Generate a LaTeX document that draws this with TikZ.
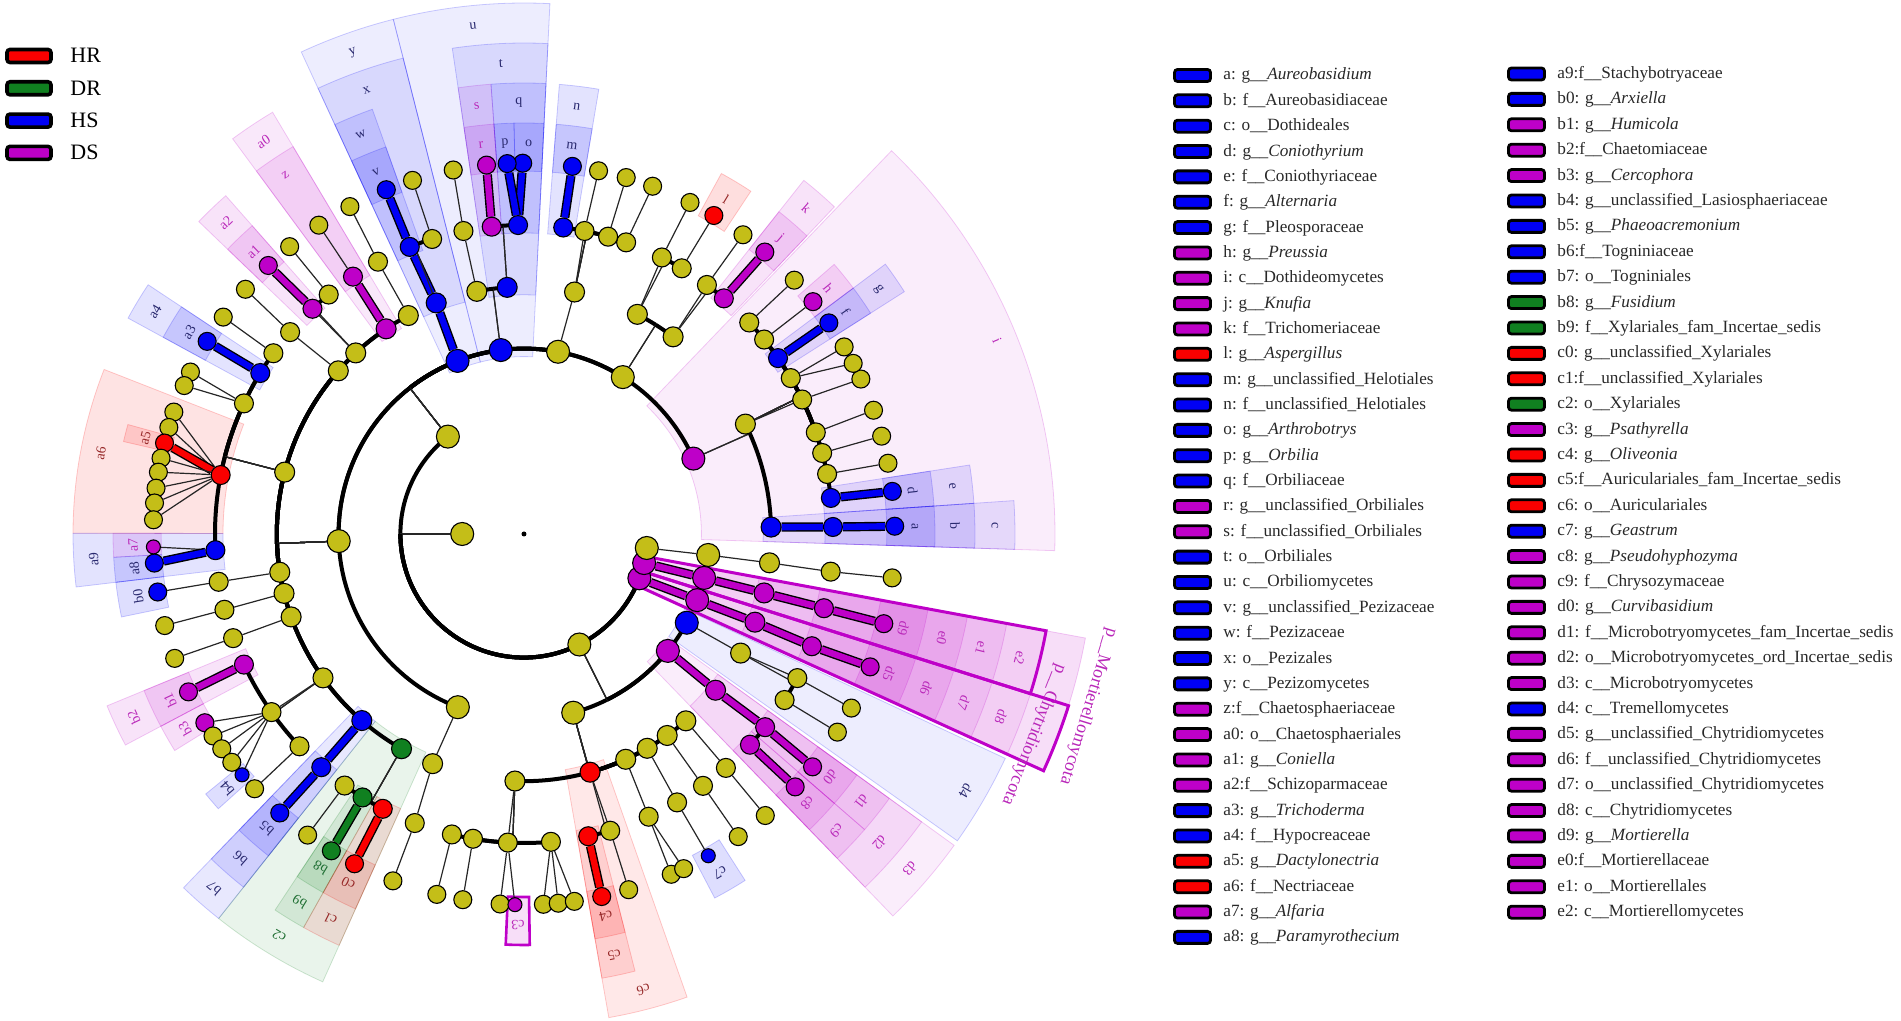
\documentclass[tikz,border=0pt]{standalone}
\usepackage{fontspec}
\setmainfont{Liberation Serif}
\usepackage{tikz}
\definecolor{hr}{RGB}{250,0,0}
\definecolor{dr}{RGB}{16,128,32}
\definecolor{hs}{RGB}{0,0,245}
\definecolor{ds}{RGB}{190,0,200}
\definecolor{yel}{RGB}{196,190,24}
\definecolor{hrlab}{RGB}{150,40,40}
\definecolor{drlab}{RGB}{30,110,50}
\definecolor{hslab}{RGB}{40,40,110}
\definecolor{dslab}{RGB}{185,40,185}
\definecolor{keyink}{RGB}{40,40,40}

\pgfdeclarelayer{back}
\pgfdeclarelayer{edges}
\pgfsetlayers{back,edges,main}

\tikzset{
  clnode/.style={circle, draw=black, line width=0.55pt, inner sep=0pt, fill=#1},
  lev1/.style={minimum size=11.5pt},
  lev2/.style={minimum size=11.5pt},
  lev3/.style={minimum size=11.5pt},
  lev4/.style={minimum size=10pt},
  lev5/.style={minimum size=9.5pt},
  lev6/.style={minimum size=9pt},
  smalldot/.style={minimum size=7pt},
  twig/.style={line width=0.6pt, black!85},
  branch/.style={line width=2pt, black},
  hibar/.style={draw=black, line width=0.7pt, double=#1, double distance=3.2pt},
  hlzone/.style={fill=#1, fill opacity=0.13, draw=#1, draw opacity=0.2, line width=0.4pt},
  hltag/.style={text=#1lab, font=\fontsize{7}{8}\selectfont, inner sep=0pt},
  keybox/.style={rectangle, rounded corners=1.5pt, draw=black, line width=1.4pt,
    minimum width=18pt, minimum height=6pt, inner sep=0pt, fill=#1},
  keytext/.style={anchor=base west, inner sep=0pt, text=keyink, font=\fontsize{8.6}{10}\selectfont},
}

\makeatletter
% tree node: [extra]{name}{angle}{level}{colour}
\newcommand\tn[5][]{%
  \expandafter\xdef\csname cl@a@#2\endcsname{#3}%
  \expandafter\xdef\csname cl@l@#2\endcsname{#4}%
  \expandafter\xdef\csname cl@c@#2\endcsname{#5}%
  \pgfmathsetmacro\cl@r{61.8*#4}%
  \node[clnode=#5, lev#4, #1] (#2) at (#3:\cl@r) {};}
\def\cl@yel{yel}
% tree edge: {parent}{child}
\newcommand\te[2]{%
  \edef\cl@pa{\csname cl@a@#1\endcsname}%
  \edef\cl@ca{\csname cl@a@#2\endcsname}%
  \edef\cl@lv{\csname cl@l@#2\endcsname}%
  \edef\cl@pc{\csname cl@c@#1\endcsname}%
  \edef\cl@cc{\csname cl@c@#2\endcsname}%
  \pgfmathsetmacro\cl@rr{61.8*\cl@lv}%
  \pgfmathtruncatemacro\cl@st{or(abs(\cl@ca-\cl@pa)<1.5, \cl@lv==6)}%
  \begin{pgfonlayer}{edges}
  \ifnum\cl@st=1
    \ifx\cl@pc\cl@cc
      \ifx\cl@cc\cl@yel \draw[twig] (#1) -- (#2);
      \else \draw[hibar=\cl@cc] (#1) -- (#2); \fi
    \else \draw[twig] (#1) -- (#2); \fi
  \else
    \draw[twig] (#1) -- (\cl@pa:\cl@rr);
    \draw[branch] (\cl@pa:\cl@rr) arc[start angle=\cl@pa, end angle=\cl@ca, radius=\cl@rr];
  \fi
  \end{pgfonlayer}}
% shaded clade: {name}{text}{colour}{from}{to}{level}
\newcommand\biomark[6]{%
  \pgfmathsetmacro\bm@rin{61.8*#6-8}%
  \pgfmathsetmacro\bm@rout{411+40*(6-#6)}%
  \pgfmathsetmacro\bm@rlab{\bm@rout-20}%
  \pgfmathsetmacro\bm@mid{(#4+#5)/2}%
  \pgfmathsetmacro\bm@op{0.02*#6+0.01}%
  \begin{pgfonlayer}{back}
    \path[hlzone=#3, fill opacity=\bm@op] (#4:\bm@rin) arc[start angle=#4, end angle=#5, radius=\bm@rin]
      -- (#5:\bm@rout) arc[start angle=#5, end angle=#4, radius=\bm@rout] -- cycle;
  \end{pgfonlayer}
  \node[hltag=#3, rotate=\bm@mid-90] (lab-#1) at (\bm@mid:\bm@rlab) {#2};}
\makeatother

\begin{document}
\begin{tikzpicture}[x=0.5pt, y=0.5pt]
\useasboundingbox (-524,-487) rectangle (1377,534);

% root, kingdom, phyla
\node[circle, fill=black, inner sep=0pt, minimum size=2.5pt] (root) at (0,0) {};
\tn{fungi}{180}{1}{yel}
\tn{asco}{128}{2}{yel}
\tn{basid}{296.6}{2}{yel}
\tn{chyt}{339}{2}{ds}
\tn{mort}{346.4}{2}{ds}
\tn{phx}{353.5}{2}{yel}
% classes
\tn{i}{24}{3}{ds}
\tn{eurot}{57.8}{3}{yel}
\tn{leot}{79.4}{3}{yel}
\tn{u}{97.2}{3}{hs}
\tn{y}{111}{3}{hs}
\tn{sord}{182.2}{3}{yel}
\tn{cls249}{249.1}{3}{yel}
\tn{agar}{285.4}{3}{yel}
\tn{d3}{320.9}{3}{ds}
\tn{d4}{331.4}{3}{hs}
\tn{d8}{339.1}{3}{ds}
\tn{e2}{346.3}{3}{ds}
\tn{clsx}{353.5}{3}{yel}
% orders
\tn{c}{1.6}{4}{hs}
\tn{pleo}{26.4}{4}{yel}
\tn{chaet}{52.9}{4}{yel}
\tn{eurotl}{62.7}{4}{yel}
\tn{helo}{78.2}{4}{yel}
\tn{t}{93.9}{4}{hs}
\tn{ord101}{101}{4}{yel}
\tn{x}{110.8}{4}{hs}
\tn{ord118}{117.9}{4}{yel}
\tn{a0}{123.9}{4}{ds}
\tn{ord133}{132.9}{4}{yel}
\tn{ord139}{138.7}{4}{yel}
\tn{hypo}{165.5}{4}{yel}
\tn{ord189}{188.9}{4}{yel}
\tn{ord194}{193.9}{4}{yel}
\tn{ord200}{199.6}{4}{yel}
\tn{sordl}{215.6}{4}{yel}
\tn{b7}{229}{4}{hs}
\tn{c2}{240.3}{4}{dr}
\tn{ord248}{248.3}{4}{yel}
\tn{ord268}{267.9}{4}{yel}
\tn{c6}{285.5}{4}{hr}
\tn{ord294}{294.3}{4}{yel}
\tn{ord300}{299.9}{4}{yel}
\tn{ord305}{305.4}{4}{yel}
\tn{ord311}{310.9}{4}{yel}
\tn{d2}{320.8}{4}{ds}
\tn{ord331}{331.2}{4}{yel}
\tn{d7}{339.1}{4}{ds}
\tn{e1}{346.2}{4}{ds}
\tn{ordx}{353.3}{4}{yel}
% families
\tn{b}{1.3}{5}{hs}
\tn{e}{6.7}{5}{hs}
\tn{fam11}{11.2}{5}{yel}
\tn{fam15}{15.2}{5}{yel}
\tn{fam19}{19.2}{5}{yel}
\tn{fam26}{25.8}{5}{yel}
\tn{fam30}{30.3}{5}{yel}
\tn{g}{34.7}{5}{hs}
\tn{fam39}{39}{5}{yel}
\tn{fam43}{43.2}{5}{yel}
\tn{k}{49.7}{5}{ds}
\tn{fam54}{53.7}{5}{yel}
\tn{fam59}{59.3}{5}{yel}
\tn{fam64}{63.5}{5}{yel}
\tn{fam71}{70.7}{5}{yel}
\tn{fam74}{74.2}{5}{yel}
\tn{fam79}{78.7}{5}{yel}
\tn{n}{82.7}{5}{hs}
\tn{q}{91.1}{5}{hs}
\tn{s}{96}{5}{ds}
\tn{fam101}{101.3}{5}{yel}
\tn{fam107}{107.3}{5}{yel}
\tn{w}{111.7}{5}{hs}
\tn{fam118}{118.2}{5}{yel}
\tn{z}{123.6}{5}{ds}
\tn{fam129}{129.2}{5}{yel}
\tn{a2}{133.2}{5}{ds}
\tn{fam139}{139.2}{5}{yel}
\tn{fam144}{144.2}{5}{yel}
\tn{a4}{148.6}{5}{hs}
\tn{fam155}{155}{5}{yel}
\tn{a6}{169}{5}{hr}
\tn{a9}{183}{5}{hs}
\tn{fam189}{188.9}{5}{yel}
\tn{fam194}{194.2}{5}{yel}
\tn{fam200}{199.7}{5}{yel}
\tn{b2}{205}{5}{ds}
\tn{fam215}{215.2}{5}{yel}
\tn{fam223}{223.4}{5}{yel}
\tn{b6}{229}{5}{hs}
\tn{fam235}{234.5}{5}{yel}
\tn{b9}{238.5}{5}{dr}
\tn{c1}{242.8}{5}{hr}
\tn{fam249}{249.3}{5}{yel}
\tn{fam257}{256.5}{5}{yel}
\tn{fam261}{260.5}{5}{yel}
\tn{fam267}{267}{5}{yel}
\tn{fam275}{275}{5}{yel}
\tn{c5}{282}{5}{hr}
\tn{fam286}{286.2}{5}{yel}
\tn{fam294}{293.8}{5}{yel}
\tn{fam300}{299.7}{5}{yel}
\tn{fam305}{305.4}{5}{yel}
\tn{fam311}{310.8}{5}{yel}
\tn{c9}{317}{5}{ds}
\tn{d1}{321.3}{5}{ds}
\tn{fam328}{327.5}{5}{yel}
\tn{fam332}{332.2}{5}{yel}
\tn{d6}{338.7}{5}{ds}
\tn{e0}{346.1}{5}{ds}
\tn{famx}{353}{5}{yel}
% genera
\tn{a}{1.2}{6}{hs}
\tn{d}{6.6}{6}{hs}
\tn{gen11}{11}{6}{yel}
\tn{gen15}{15.3}{6}{yel}
\tn{gen20}{19.5}{6}{yel}
\tn{gen25}{24.7}{6}{yel}
\tn{gen27}{27.4}{6}{yel}
\tn{gen30}{30.3}{6}{yel}
\tn{f}{34.7}{6}{hs}
\tn{h}{38.8}{6}{ds}
\tn{gen43}{43.2}{6}{yel}
\tn{j}{49.5}{6}{ds}
\tn{gen54}{53.8}{6}{yel}
\tn{l}{59.2}{6}{hr}
\tn{gen63}{63.4}{6}{yel}
\tn{gen70}{69.7}{6}{yel}
\tn{gen74}{74}{6}{yel}
\tn{gen78}{78.4}{6}{yel}
\tn{m}{82.5}{6}{hs}
\tn{o}{90.2}{6}{hs}
\tn{p}{92.6}{6}{hs}
\tn{r}{95.8}{6}{ds}
\tn{gen101}{101}{6}{yel}
\tn{gen108}{107.5}{6}{yel}
\tn{v}{111.8}{6}{hs}
\tn{gen118}{118}{6}{yel}
\tn{gen124}{123.6}{6}{yel}
\tn{gen129}{129.2}{6}{yel}
\tn{a1}{133.6}{6}{ds}
\tn{gen139}{138.7}{6}{yel}
\tn{gen144}{144.2}{6}{yel}
\tn{a3}{148.7}{6}{hs}
\tn{gen154}{154.1}{6}{yel}
\tn{gen156}{156.4}{6}{yel}
\tn{gen161}{160.8}{6}{yel}
\tn{gen163}{163.3}{6}{yel}
\tn{a5}{165.8}{6}{hr}
\tn{gen168}{168.2}{6}{yel}
\tn{gen170}{170.4}{6}{yel}
\tn{gen173}{172.9}{6}{yel}
\tn{gen175}{175.2}{6}{yel}
\tn{gen178}{177.8}{6}{yel}
\tn[smalldot]{a7}{182}{6}{ds}
\tn{a8}{184.5}{6}{hs}
\tn{b0}{189}{6}{hs}
\tn{gen194}{194.3}{6}{yel}
\tn{gen200}{199.6}{6}{yel}
\tn{b1}{205.2}{6}{ds}
\tn{b3}{210.6}{6}{ds}
\tn{gen213}{213}{6}{yel}
\tn{gen215}{215.4}{6}{yel}
\tn{gen218}{218}{6}{yel}
\tn[smalldot]{b4}{220.5}{6}{hs}
\tn{gen223}{223.4}{6}{yel}
\tn{b5}{228.8}{6}{hs}
\tn{gen234}{234.3}{6}{yel}
\tn{b8}{238.7}{6}{dr}
\tn{c0}{242.8}{6}{hr}
\tn{gen249}{249.3}{6}{yel}
\tn{gen256}{256.4}{6}{yel}
\tn{gen260}{260.5}{6}{yel}
\tn{gen266}{266.3}{6}{yel}
\tn[smalldot]{c3}{268.6}{6}{ds}
\tn{gen273}{273}{6}{yel}
\tn{gen275}{275.3}{6}{yel}
\tn{gen278}{277.8}{6}{yel}
\tn{c4}{282.1}{6}{hr}
\tn{gen286}{286.4}{6}{yel}
\tn{gen293}{293.4}{6}{yel}
\tn{gen296}{295.5}{6}{yel}
\tn[smalldot]{c7}{299.8}{6}{hs}
\tn{gen305}{305.3}{6}{yel}
\tn{gen311}{310.6}{6}{yel}
\tn{c8}{317}{6}{ds}
\tn{d0}{321.1}{6}{ds}
\tn{gen328}{327.7}{6}{yel}
\tn{gen332}{332}{6}{yel}
\tn{d5}{339}{6}{ds}
\tn{d9}{346}{6}{ds}
\tn{genx}{353.2}{6}{yel}

% branches
\te{fungi}{asco} \te{fungi}{basid} \te{fungi}{chyt} \te{fungi}{mort} \te{fungi}{phx}
\te{asco}{i} \te{asco}{eurot} \te{asco}{leot} \te{asco}{u} \te{asco}{y} \te{asco}{sord} \te{asco}{cls249}
\te{basid}{agar} \te{basid}{d3} \te{basid}{d4}
\te{chyt}{d8} \te{mort}{e2} \te{phx}{clsx}
\te{i}{c} \te{i}{pleo}
\te{eurot}{eurotl} \te{eurot}{chaet}
\te{leot}{helo}
\te{u}{t} \te{u}{ord101}
\te{y}{x}
\te{sord}{ord118} \te{sord}{a0} \te{sord}{ord133} \te{sord}{ord139} \te{sord}{hypo}
\te{sord}{ord189} \te{sord}{ord194} \te{sord}{ord200} \te{sord}{sordl} \te{sord}{b7} \te{sord}{c2}
\te{cls249}{ord248}
\te{agar}{ord268} \te{agar}{c6} \te{agar}{ord294} \te{agar}{ord300} \te{agar}{ord305} \te{agar}{ord311}
\te{d3}{d2} \te{d4}{ord331} \te{d8}{d7} \te{e2}{e1} \te{clsx}{ordx}
\te{c}{b}
\te{pleo}{e} \te{pleo}{fam11} \te{pleo}{fam15} \te{pleo}{fam19} \te{pleo}{fam26}
\te{pleo}{fam30} \te{pleo}{g} \te{pleo}{fam39} \te{pleo}{fam43}
\te{eurotl}{fam64} \te{eurotl}{fam59} \te{chaet}{fam54} \te{chaet}{k}
\te{helo}{n} \te{helo}{fam79} \te{helo}{fam74} \te{helo}{fam71}
\te{t}{q} \te{t}{s} \te{ord101}{fam101}
\te{x}{w} \te{x}{fam107}
\te{ord118}{fam118} \te{a0}{z} \te{ord133}{a2} \te{ord133}{fam129} \te{ord139}{fam139}
\te{hypo}{fam144} \te{hypo}{a4} \te{hypo}{fam155} \te{hypo}{a6} \te{hypo}{a9}
\te{ord189}{fam189} \te{ord194}{fam194} \te{ord200}{fam200}
\te{sordl}{b2} \te{sordl}{fam215} \te{sordl}{fam223}
\te{b7}{b6} \te{c2}{fam235} \te{c2}{b9} \te{c2}{c1}
\te{ord248}{fam249}
\te{ord268}{fam257} \te{ord268}{fam261} \te{ord268}{fam267} \te{ord268}{fam275}
\te{c6}{c5} \te{c6}{fam286} \te{ord294}{fam294} \te{ord300}{fam300} \te{ord305}{fam305} \te{ord311}{fam311}
\te{d2}{c9} \te{d2}{d1} \te{ord331}{fam328} \te{ord331}{fam332} \te{d7}{d6} \te{e1}{e0} \te{ordx}{famx}
\te{b}{a} \te{e}{d} \te{fam11}{gen11} \te{fam15}{gen15} \te{fam19}{gen20} \te{fam26}{gen25}
\te{fam30}{gen30} \te{fam30}{gen27} \te{g}{f} \te{fam39}{h} \te{fam43}{gen43}
\te{fam64}{gen63} \te{fam59}{l} \te{fam54}{gen54} \te{k}{j}
\te{n}{m} \te{fam79}{gen78} \te{fam74}{gen74} \te{fam71}{gen70}
\te{q}{o} \te{q}{p} \te{s}{r} \te{fam101}{gen101} \te{w}{v} \te{fam107}{gen108}
\te{fam118}{gen118} \te{z}{gen124} \te{fam129}{gen129} \te{a2}{a1} \te{fam139}{gen139}
\te{fam144}{gen144} \te{a4}{a3} \te{fam155}{gen154} \te{fam155}{gen156}
\te{a6}{gen161} \te{a6}{gen163} \te{a6}{a5} \te{a6}{gen168} \te{a6}{gen170} \te{a6}{gen173} \te{a6}{gen175} \te{a6}{gen178}
\te{a9}{a7} \te{a9}{a8}
\te{fam189}{b0} \te{fam194}{gen194} \te{fam200}{gen200}
\te{b2}{b1} \te{fam215}{b3} \te{fam215}{gen213} \te{fam215}{gen215} \te{fam215}{gen218} \te{fam215}{b4} \te{fam223}{gen223}
\te{b6}{b5} \te{fam235}{gen234} \te{b9}{b8} \te{c1}{c0}
\te{fam249}{gen249}
\te{fam257}{gen256} \te{fam261}{gen260} \te{fam267}{gen266} \te{fam267}{c3}
\te{fam275}{gen273} \te{fam275}{gen275} \te{fam275}{gen278}
\te{c5}{c4} \te{fam286}{gen286} \te{fam294}{gen293} \te{fam294}{gen296} \te{fam300}{c7} \te{fam305}{gen305} \te{fam311}{gen311}
\te{c9}{c8} \te{d1}{d0} \te{fam328}{gen328} \te{fam332}{gen332} \te{d6}{d5} \te{e0}{d9} \te{famx}{genx}

% shaded clades, genus level
\biomark{a}{a}{hs}{-1.8}{3.9}{6}
\biomark{d}{d}{hs}{3.9}{8.8}{6}
\biomark{f}{f}{hs}{32.5}{36.75}{6}
\biomark{h}{h}{ds}{36.75}{41}{6}
\biomark{j}{j}{ds}{46.5}{51.65}{6}
\biomark{l}{l}{hr}{56.5}{61.3}{6}
\biomark{m}{m}{hs}{80.45}{85.5}{6}
\biomark{o}{o}{hs}{87.2}{91.4}{6}
\biomark{p}{p}{hs}{91.4}{94.2}{6}
\biomark{r}{r}{ds}{94.2}{98.4}{6}
\biomark{v}{v}{hs}{109.65}{114.8}{6}
\biomark{a1}{a1}{ds}{131.4}{136.15}{6}
\biomark{a3}{a3}{hs}{146.45}{151.4}{6}
\biomark{a5}{a5}{hr}{164.55}{167}{6}
\biomark{a7}{a7}{ds}{179.9}{183.25}{6}
\biomark{a8}{a8}{hs}{183.25}{186.75}{6}
\biomark{b0}{b0}{hs}{186.75}{191.65}{6}
\biomark{b1}{b1}{ds}{202.4}{207.9}{6}
\biomark{b3}{b3}{ds}{207.9}{211.8}{6}
\biomark{b4}{b4}{hs}{219.25}{221.95}{6}
\biomark{b5}{b5}{hs}{226.1}{231.55}{6}
\biomark{b8}{b8}{dr}{236.5}{240.75}{6}
\biomark{c0}{c0}{hr}{240.75}{245.8}{6}
\biomark{c3}{c3}{ds}{267.45}{270.8}{6}
\biomark{c4}{c4}{hr}{279.95}{284.25}{6}
\biomark{c7}{c7}{hs}{297.65}{302.55}{6}
\biomark{c8}{c8}{ds}{314}{319.05}{6}
\biomark{d0}{d0}{ds}{319.05}{324.1}{6}
\biomark{d5}{d5}{ds}{335.5}{342.5}{6}
\biomark{d9}{d9}{ds}{342.5}{349.5}{6}
% family level
\biomark{b}{b}{hs}{-1.8}{3.9}{5}
\biomark{e}{e}{hs}{3.9}{8.8}{5}
\biomark{g}{g}{hs}{32.5}{36.75}{5}
\biomark{k}{k}{ds}{46.5}{51.65}{5}
\biomark{n}{n}{hs}{80.45}{85.5}{5}
\biomark{q}{q}{hs}{87.2}{94.2}{5}
\biomark{s}{s}{ds}{94.2}{98.4}{5}
\biomark{w}{w}{hs}{109.65}{114.8}{5}
\biomark{z}{z}{ds}{120.8}{126.4}{5}
\biomark{a2}{a2}{ds}{131.4}{136.15}{5}
\biomark{a4}{a4}{hs}{146.45}{151.4}{5}
\biomark{a6}{a6}{hr}{158.6}{179.9}{5}
\biomark{a9}{a9}{hs}{179.9}{186.75}{5}
\biomark{b2}{b2}{ds}{202.4}{207.9}{5}
\biomark{b6}{b6}{hs}{226.1}{231.55}{5}
\biomark{b9}{b9}{dr}{236.5}{240.75}{5}
\biomark{c1}{c1}{hr}{240.75}{245.8}{5}
\biomark{c5}{c5}{hr}{279.95}{284.25}{5}
\biomark{c9}{c9}{ds}{314}{319.05}{5}
\biomark{d1}{d1}{ds}{319.05}{324.1}{5}
\biomark{d6}{d6}{ds}{335.5}{342.5}{5}
\biomark{e0}{e0}{ds}{342.5}{349.5}{5}
% order level
\biomark{c}{c}{hs}{-1.8}{3.9}{4}
\biomark{t}{t}{hs}{87.2}{98.4}{4}
\biomark{x}{x}{hs}{104.25}{114.8}{4}
\biomark{a0}{a0}{ds}{120.8}{126.4}{4}
\biomark{b7}{b7}{hs}{226.1}{231.55}{4}
\biomark{c2}{c2}{dr}{231.55}{245.8}{4}
\biomark{c6}{c6}{hr}{279.95}{289.4}{4}
\biomark{d2}{d2}{ds}{314}{324.1}{4}
\biomark{d7}{d7}{ds}{335.5}{342.5}{4}
\biomark{e1}{e1}{ds}{342.5}{349.5}{4}
% class level
\biomark{i}{i}{ds}{-1.8}{46.2}{3}
\biomark{u}{u}{hs}{87.2}{104.25}{3}
\biomark{y}{y}{hs}{104.25}{114.8}{3}
\biomark{d3}{d3}{ds}{314}{324.1}{3}
\biomark{d4}{d4}{hs}{324.7}{335}{3}
\biomark{d8}{d8}{ds}{335.5}{342.5}{3}
\biomark{e2}{e2}{ds}{342.5}{349.5}{3}
% phylum level
\begin{pgfonlayer}{back}
  \path[hlzone=ds] (335.5:123.6) arc[start angle=335.5, end angle=342.5, radius=123.6]
    -- (342.5:571) arc[start angle=342.5, end angle=335.5, radius=571] -- cycle;
  \path[hlzone=ds] (342.5:123.6) arc[start angle=342.5, end angle=349.5, radius=123.6]
    -- (349.5:571) arc[start angle=349.5, end angle=342.5, radius=571] -- cycle;
  \draw[ds, line width=1.5pt] (335.5:123.6) arc[start angle=335.5, end angle=342.5, radius=123.6]
    -- (342.5:571) arc[start angle=342.5, end angle=335.5, radius=571] -- cycle;
  \draw[ds, line width=1.5pt] (342.5:123.6) arc[start angle=342.5, end angle=349.5, radius=123.6]
    -- (349.5:531) arc[start angle=349.5, end angle=342.5, radius=531] -- cycle;
  \draw[ds, line width=1.3pt] (267.45:363) arc[start angle=267.45, end angle=270.8, radius=363]
    -- (270.8:411) arc[start angle=270.8, end angle=267.45, radius=411] -- cycle;
\end{pgfonlayer}
\node[hltag=ds, font=\fontsize{9}{10}\selectfont, rotate=248.5] (lab-chyt) at (338.5:548) {p\_\_Chytridiomycota};
\node[hltag=ds, font=\fontsize{9}{10}\selectfont, rotate=253] (lab-mort) at (343:590) {p\_\_Mortierellomycota};

% group key
\foreach \kc/\kt [count=\i from 0] in {hr/HR, dr/DR, hs/HS, ds/DS} {
  \node[keybox=\kc, minimum width=22pt, minimum height=6.5pt, line width=1.8pt] (grp\i) at (-495,{478-32.3*\i}) {};
  \node[anchor=base west, inner sep=0pt, font=\fontsize{11}{13}\selectfont] (grptxt\i) at (-454,{471-32.3*\i}) {\kt};
}

% biomarker key, left column
\foreach \kc/\kt [count=\i from 0] in {
  hs/{a: g\_\_\textit{Aureobasidium}}, hs/{b: f\_\_Aureobasidiaceae}, hs/{c: o\_\_Dothideales},
  hs/{d: g\_\_\textit{Coniothyrium}}, hs/{e: f\_\_Coniothyriaceae}, hs/{f: g\_\_\textit{Alternaria}},
  hs/{g: f\_\_Pleosporaceae}, ds/{h: g\_\_\textit{Preussia}}, ds/{i: c\_\_Dothideomycetes},
  ds/{j: g\_\_\textit{Knufia}}, ds/{k: f\_\_Trichomeriaceae}, hr/{l: g\_\_\textit{Aspergillus}},
  hs/{m: g\_\_unclassified\_Helotiales}, hs/{n: f\_\_unclassified\_Helotiales},
  hs/{o: g\_\_\textit{Arthrobotrys}}, hs/{p: g\_\_\textit{Orbilia}}, hs/{q: f\_\_Orbiliaceae},
  ds/{r: g\_\_unclassified\_Orbiliales}, ds/{s: f\_\_unclassified\_Orbiliales},
  hs/{t: o\_\_Orbiliales}, hs/{u: c\_\_Orbiliomycetes}, hs/{v: g\_\_unclassified\_Pezizaceae},
  hs/{w: f\_\_Pezizaceae}, hs/{x: o\_\_Pezizales}, hs/{y: c\_\_Pezizomycetes},
  ds/{z:f\_\_Chaetosphaeriaceae}, ds/{a0: o\_\_Chaetosphaeriales}, ds/{a1: g\_\_\textit{Coniella}},
  ds/{a2:f\_\_Schizoparmaceae}, hs/{a3: g\_\_\textit{Trichoderma}}, hs/{a4: f\_\_Hypocreaceae},
  hr/{a5: g\_\_\textit{Dactylonectria}}, hr/{a6: f\_\_Nectriaceae}, ds/{a7: g\_\_\textit{Alfaria}},
  hs/{a8: g\_\_\textit{Paramyrothecium}}} {
  \node[keybox=\kc] (kl\i) at (668.5,{458.5-25.35*\i}) {};
  \node[keytext] (tl\i) at (699,{454-25.35*\i}) {\kt};
}
% biomarker key, right column
\foreach \kc/\kt [count=\i from 0] in {
  hs/{a9:f\_\_Stachybotryaceae}, hs/{b0: g\_\_\textit{Arxiella}}, ds/{b1: g\_\_\textit{Humicola}},
  ds/{b2:f\_\_Chaetomiaceae}, ds/{b3: g\_\_\textit{Cercophora}},
  hs/{b4: g\_\_unclassified\_Lasiosphaeriaceae}, hs/{b5: g\_\_\textit{Phaeoacremonium}},
  hs/{b6:f\_\_Togniniaceae}, hs/{b7: o\_\_Togniniales}, dr/{b8: g\_\_\textit{Fusidium}},
  dr/{b9: f\_\_Xylariales\_fam\_Incertae\_sedis}, hr/{c0: g\_\_unclassified\_Xylariales},
  hr/{c1:f\_\_unclassified\_Xylariales}, dr/{c2: o\_\_Xylariales}, ds/{c3: g\_\_\textit{Psathyrella}},
  hr/{c4: g\_\_\textit{Oliveonia}}, hr/{c5:f\_\_Auriculariales\_fam\_Incertae\_sedis},
  hr/{c6: o\_\_Auriculariales}, hs/{c7: g\_\_\textit{Geastrum}}, ds/{c8: g\_\_\textit{Pseudohyphozyma}},
  ds/{c9: f\_\_Chrysozymaceae}, ds/{d0: g\_\_\textit{Curvibasidium}},
  ds/{d1: f\_\_Microbotryomycetes\_fam\_Incertae\_sedis},
  ds/{d2: o\_\_Microbotryomycetes\_ord\_Incertae\_sedis}, ds/{d3: c\_\_Microbotryomycetes},
  hs/{d4: c\_\_Tremellomycetes}, ds/{d5: g\_\_unclassified\_Chytridiomycetes},
  ds/{d6: f\_\_unclassified\_Chytridiomycetes}, ds/{d7: o\_\_unclassified\_Chytridiomycetes},
  ds/{d8: c\_\_Chytridiomycetes}, ds/{d9: g\_\_\textit{Mortierella}}, ds/{e0:f\_\_Mortierellaceae},
  ds/{e1: o\_\_Mortierellales}, ds/{e2: c\_\_Mortierellomycetes}} {
  \node[keybox=\kc] (kr\i) at (1002.5,{460-25.4*\i}) {};
  \node[keytext] (tr\i) at (1033,{455.5-25.4*\i}) {\kt};
}
\end{tikzpicture}
\end{document}
